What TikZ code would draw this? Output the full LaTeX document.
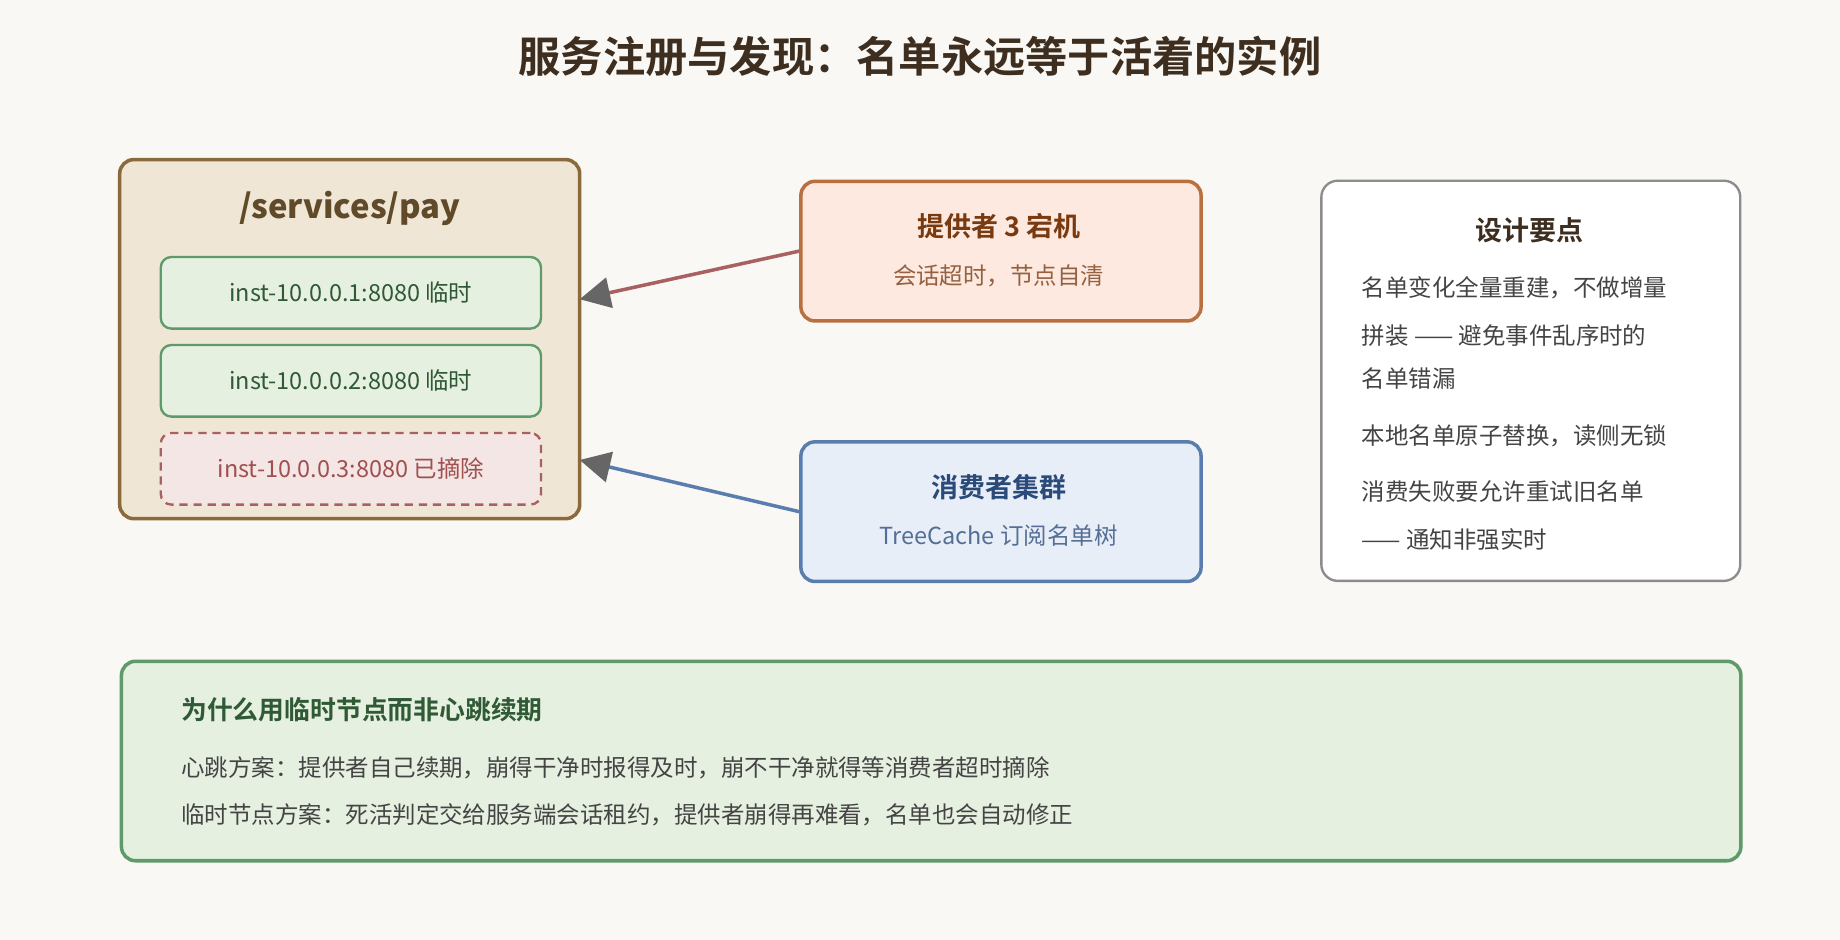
\documentclass[tikz,border=0pt]{standalone}
\usepackage{fontspec}
\setmainfont{Noto Sans CJK SC}
\newfontfamily\cjkb{Noto Sans CJK SC Bold}
\usetikzlibrary{arrows.meta}
\definecolor{bg}{HTML}{FAF8F4}
\definecolor{ttl}{HTML}{3D2E1F}
\definecolor{lbfill}{HTML}{EFE6D6}\definecolor{lbdraw}{HTML}{8A6A3A}
\definecolor{gfill}{HTML}{E6F0E0}\definecolor{gdraw}{HTML}{5F9A6A}\definecolor{gtxt}{HTML}{2F5A35}
\definecolor{rfill}{HTML}{F3E6E4}\definecolor{rdraw}{HTML}{A86060}\definecolor{rtxt}{HTML}{A05050}
\definecolor{pfill}{HTML}{FDE9DF}\definecolor{pdraw}{HTML}{B87040}\definecolor{ptxt}{HTML}{7A3A10}
\definecolor{cfill}{HTML}{E7EEF8}\definecolor{cdraw}{HTML}{5A7DB0}\definecolor{ctxt}{HTML}{2A4A7A}
\definecolor{body}{HTML}{444444}
\begin{document}
\begin{tikzpicture}[x=1pt,y=-1pt,
 box/.style={draw,line width=3pt,rounded corners=12pt},
 inst/.style={draw,line width=2pt,rounded corners=9pt,minimum width=324pt,minimum height=61pt,font=\fontsize{20}{24}\selectfont,anchor=north west},
 arr/.style={line width=3pt,-{Triangle[length=26pt,width=26pt,color=black!60]}},
 txt/.style={font=\fontsize{20}{24}\selectfont,text=body,anchor=west}]
\fill[bg] (0,0) rectangle (1568,801);
\useasboundingbox (0,0) rectangle (1568,801);
\node[font=\cjkb\fontsize{36}{40}\selectfont,text=ttl] (title) at (784,48) {服务注册与发现：名单永远等于活着的实例};
% left
\draw[box,fill=lbfill,draw=lbdraw] (102,136) rectangle (494,442);
\coordinate (lefttop) at (494,255); \coordinate (leftbot) at (494,392);
\node[font=\bfseries\fontsize{28}{32}\selectfont,text=lbdraw!70!black] (svc) at (298,178) {/services/pay};
\node[inst,fill=gfill,draw=gdraw,text=gtxt] (i1) at (136,218) {inst-10.0.0.1:8080 临时};
\node[inst,fill=gfill,draw=gdraw,text=gtxt] (i2) at (136,293) {inst-10.0.0.2:8080 临时};
\node[inst,fill=rfill,draw=rdraw,text=rtxt,dashed,dash pattern=on 7pt off 5pt] (i3) at (136,368) {inst-10.0.0.3:8080 已摘除};
% provider
\node[box,fill=pfill,draw=pdraw,minimum width=341pt,minimum height=119pt,anchor=north west] (prov) at (681,153) {};
\node[font=\cjkb\fontsize{23}{26}\selectfont,text=ptxt] (pt) at (851,193) {提供者 3 宕机};
\node[font=\fontsize{20}{24}\selectfont,text=ptxt!80] (ps) at (851,235) {会话超时，节点自清};
% consumer
\node[box,fill=cfill,draw=cdraw,minimum width=341pt,minimum height=119pt,anchor=north west] (cons) at (681,375) {};
\node[font=\cjkb\fontsize{23}{26}\selectfont,text=ctxt] (ct) at (851,415) {消费者集群};
\node[font=\fontsize{20}{24}\selectfont,text=ctxt!80] (cs) at (851,456) {TreeCache 订阅名单树};
\draw[arr,draw=rdraw] (prov.west) -- (lefttop);
\draw[arr,draw=cdraw] (cons.west) -- (leftbot);
% right
\node[draw=black!45,line width=2pt,rounded corners=14pt,fill=white,minimum width=357pt,minimum height=341pt,anchor=north west] (des) at (1125,153) {};
\node[font=\cjkb\fontsize{23}{26}\selectfont,text=ttl] (dt) at (1303,196) {设计要点};
\node[txt] (d1) at (1157,245) {名单变化全量重建，不做增量};
\node[txt] (d2) at (1157,286) {拼装 —— 避免事件乱序时的};
\node[txt] (d3) at (1157,323) {名单错漏};
\node[txt] (d4) at (1157,371) {本地名单原子替换，读侧无锁};
\node[txt] (d5) at (1157,419) {消费失败要允许重试旧名单};
\node[txt] (d6) at (1157,460) {—— 通知非强实时};
% bottom
\node[box,fill=gfill,draw=gdraw,minimum width=1380pt,minimum height=170pt,anchor=north west] (bot) at (102,562) {};
\node[font=\cjkb\fontsize{22}{26}\selectfont,text=gtxt,anchor=west] (bt) at (151,605) {为什么用临时节点而非心跳续期};
\node[txt] (b1) at (151,654) {心跳方案：提供者自己续期，崩得干净时报得及时，崩不干净就得等消费者超时摘除};
\node[txt] (b2) at (151,694) {临时节点方案：死活判定交给服务端会话租约，提供者崩得再难看，名单也会自动修正};
\end{tikzpicture}
\end{document}
